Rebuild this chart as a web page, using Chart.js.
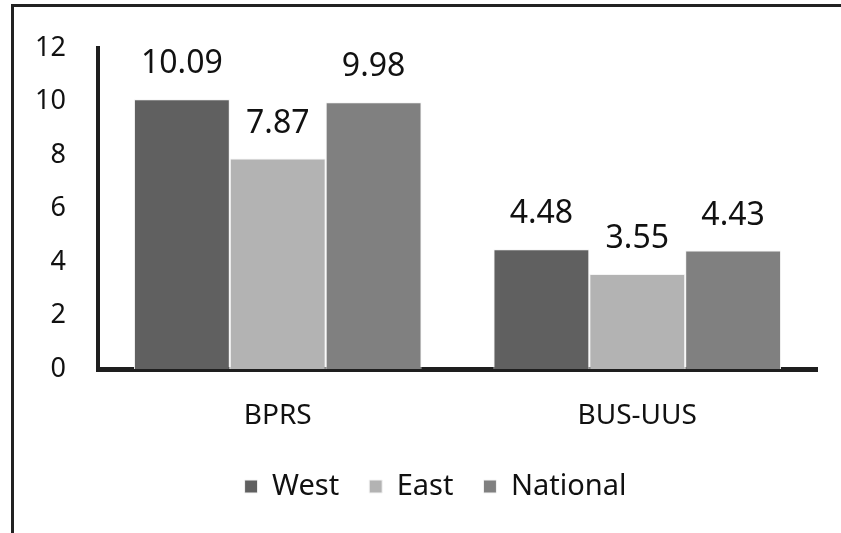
<!DOCTYPE html>
<html>
<head>
<meta charset="utf-8">
<script src="https://cdn.jsdelivr.net/npm/chart.js@4/dist/chart.umd.min.js"></script>
<style>
  html, body { margin: 0; padding: 0; background: #ffffff; }
  #wrap { width: 841px; height: 533px; position: relative; }
</style>
</head>
<body>
<div id="wrap"><canvas id="barChart" width="841" height="533"></canvas></div>
<script>
// Categorías y valores de cada serie
const categories = ["BPRS", "BUS-UUS"];
const westValues = [10.09, 4.48];
const eastValues = [7.87, 3.55];
const nationalValues = [9.98, 4.43];
const yTicks = [0, 2, 4, 6, 8, 10, 12];

const fontFamily = "'Noto Sans', 'Open Sans', sans-serif";

// Marco negro (arriba e izquierda) como en la imagen original
const framePlugin = {
    id: "frame",
    beforeDraw(chart) {
        const ctx = chart.ctx;
        ctx.save();
        ctx.fillStyle = "#222222";
        ctx.fillRect(11, 4, 841 - 11, 3);   // línea superior
        ctx.fillRect(11, 4, 3, 533 - 4);    // línea izquierda
        ctx.restore();
    }
};

// Desplazar la leyenda un poco a la derecha (centrada bajo el área del gráfico)
const legendShift = {
    id: "legendShift",
    afterLayout(chart) {
        if (chart.legend) {
            chart.legend.left += 27;
            chart.legend.right += 27;
        }
    }
};

// Etiquetas de valor encima de cada barra
const valueLabels = {
    id: "valueLabels",
    afterDatasetsDraw(chart) {
        const ctx = chart.ctx;
        ctx.save();
        ctx.font = "32px " + fontFamily;
        ctx.fillStyle = "#111111";
        ctx.textAlign = "center";
        ctx.textBaseline = "middle";
        chart.data.datasets.forEach((ds, i) => {
            chart.getDatasetMeta(i).data.forEach((bar, j) => {
                ctx.fillText(ds.data[j].toFixed(2), bar.x, bar.y - 35);
            });
        });
        ctx.restore();
    }
};

const ctx = document.getElementById("barChart").getContext("2d");
new Chart(ctx, {
    type: "bar",
    data: {
        labels: categories,
        datasets: [
            { label: "West", data: westValues, backgroundColor: "#606060", borderColor: "#f4f4f4", borderWidth: 1 },
            { label: "East", data: eastValues, backgroundColor: "#b3b3b3", borderColor: "#f4f4f4", borderWidth: 1 },
            { label: "National", data: nationalValues, backgroundColor: "#808080", borderColor: "#f4f4f4", borderWidth: 1 }
        ]
    },
    options: {
        responsive: false,
        animation: false,
        layout: { padding: { left: 0, right: 24, top: 46, bottom: 22 } },
        datasets: { bar: { categoryPercentage: 0.8, barPercentage: 1.0 } },
        scales: {
            x: {
                grid: { display: false, drawTicks: false },
                border: { display: true, color: "#1e1e1e", width: 5 },
                ticks: { color: "#111111", font: { family: fontFamily, size: 28 }, padding: 30 },
                afterFit(axis) { axis.height = 73; }
            },
            y: {
                min: 0,
                max: 12,
                grid: { display: false, drawTicks: false },
                border: { display: true, color: "#1e1e1e", width: 4 },
                afterBuildTicks(axis) { axis.ticks = yTicks.map(v => ({ value: v })); },
                ticks: { color: "#111111", font: { family: fontFamily, size: 27 }, padding: 32 },
                afterFit(axis) { axis.width = 98; }
            }
        },
        plugins: {
            legend: {
                position: "bottom",
                labels: {
                    color: "#111111",
                    font: { family: fontFamily, size: 29 },
                    boxWidth: 13,
                    boxHeight: 13,
                    padding: 30
                }
            },
            tooltip: { enabled: false }
        }
    },
    plugins: [framePlugin, legendShift, valueLabels]
});
</script>
</body>
</html>
